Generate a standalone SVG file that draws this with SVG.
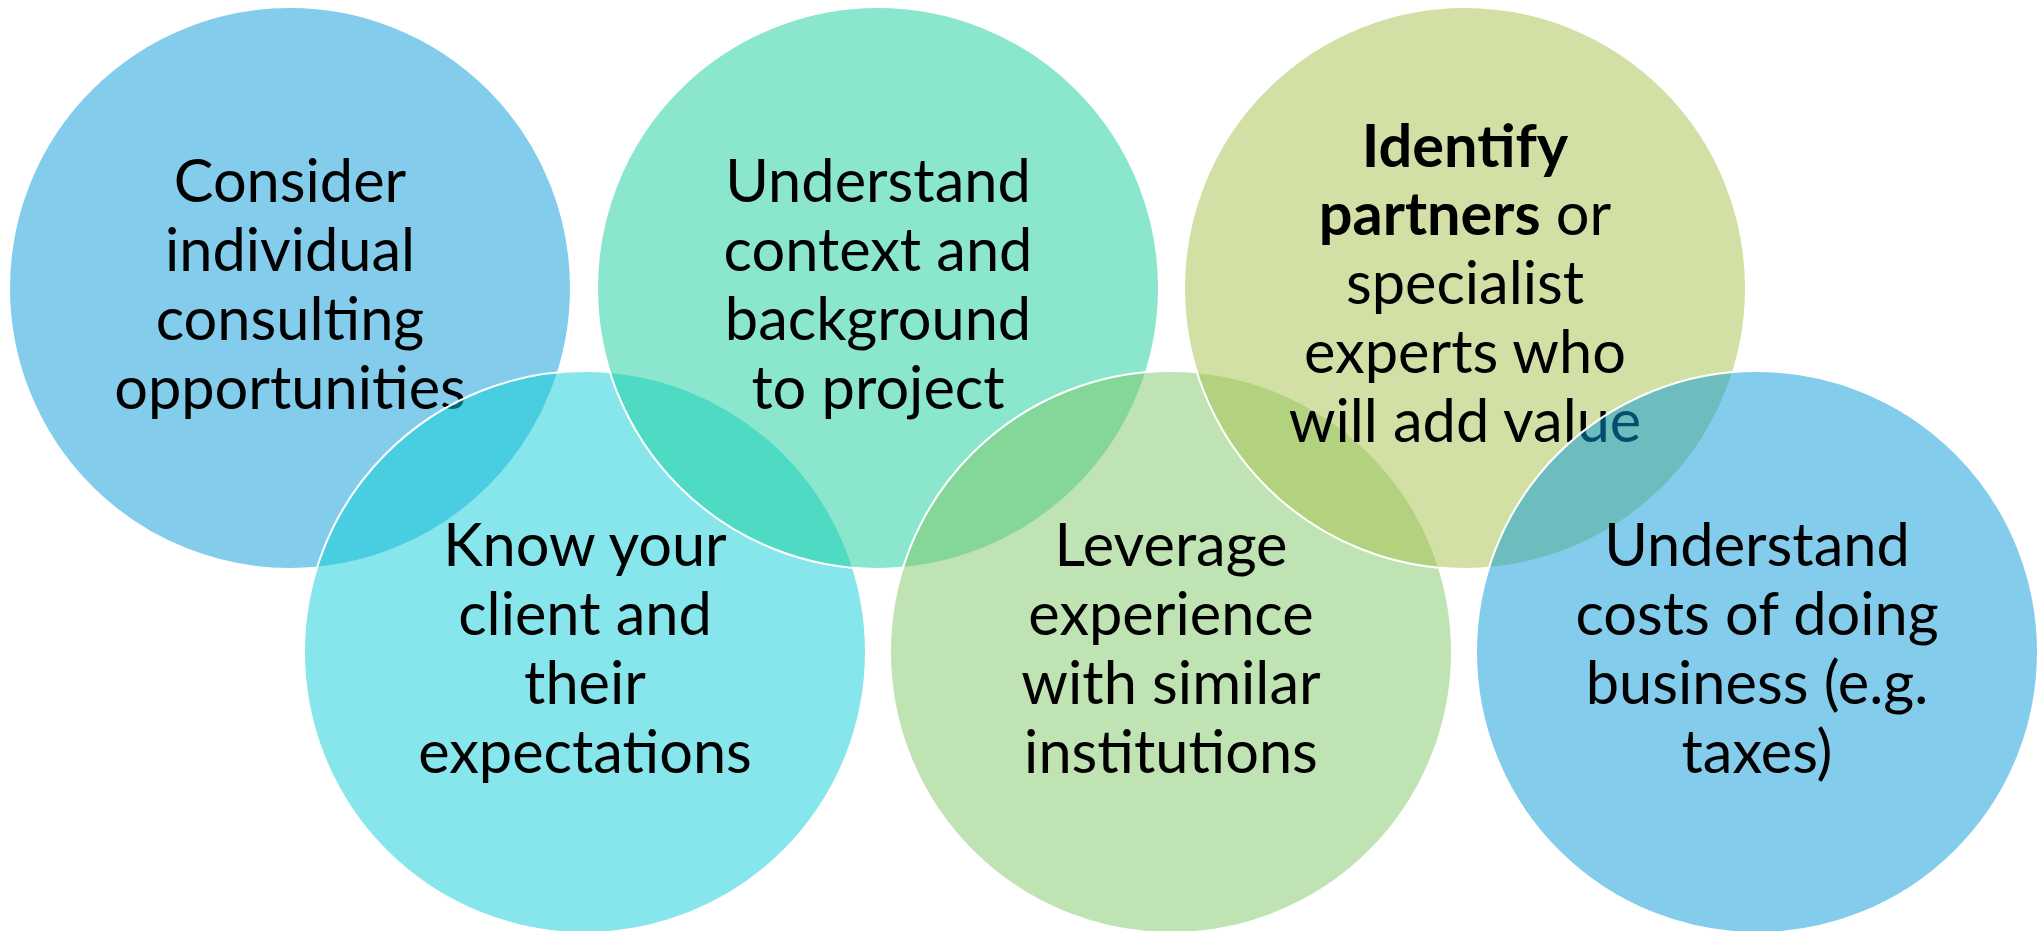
<svg xmlns="http://www.w3.org/2000/svg" width="2039" height="931" viewBox="0 0 2039 931">
<style>
.c{stroke:#FFFFFF;stroke-width:2;fill-opacity:0.5}
.t{font-family:Lato,"Open Sans","Liberation Sans",sans-serif;font-size:59.5px;fill:#000000;text-anchor:middle}
.b{font-weight:bold}
</style>
<rect width="2039" height="931" fill="#FFFFFF"/>
<g id="node-consider">
<circle class="c" cx="290" cy="288" r="281" fill="#0799D7"/>
<text class="t"><tspan x="290" y="202">Consider</tspan><tspan x="290" y="271">individual</tspan><tspan x="290" y="340">consulting</tspan><tspan x="290" y="409">opportunities</tspan></text>
</g>
<g id="node-know">
<circle class="c" cx="585" cy="652" r="281" fill="#0FCDD7"/>
<text class="t"><tspan x="585" y="566">Know your</tspan><tspan x="585" y="635">client and</tspan><tspan x="585" y="704">their</tspan><tspan x="585" y="773">expectations</tspan></text>
</g>
<g id="node-context">
<circle class="c" cx="878" cy="288" r="281" fill="#15CD9B"/>
<text class="t"><tspan x="878" y="202">Understand</tspan><tspan x="878" y="271">context and</tspan><tspan x="878" y="340">background</tspan><tspan x="878" y="409">to project</tspan></text>
</g>
<g id="node-leverage">
<circle class="c" cx="1171" cy="652" r="281" fill="#7FC765"/>
<text class="t"><tspan x="1171" y="566">Leverage</tspan><tspan x="1171" y="635">experience</tspan><tspan x="1171" y="704">with similar</tspan><tspan x="1171" y="773">institutions</tspan></text>
</g>
<g id="node-partners">
<circle class="c" cx="1465" cy="288" r="281" fill="#A7C14B"/>
<text class="t"><tspan x="1465" y="167" class="b">Identify</tspan><tspan x="1465" y="235"><tspan class="b">partners</tspan> or</tspan><tspan x="1465" y="304">specialist</tspan><tspan x="1465" y="373">experts who</tspan><tspan x="1465" y="442">will add value</tspan></text>
</g>
<g id="node-costs">
<circle class="c" cx="1757" cy="652" r="281" fill="#0799D7"/>
<text class="t"><tspan x="1757" y="566">Understand</tspan><tspan x="1757" y="635">costs of doing</tspan><tspan x="1757" y="704">business (e.g.</tspan><tspan x="1757" y="773">taxes)</tspan></text>
</g>
<g id="connectors"></g>
</svg>
